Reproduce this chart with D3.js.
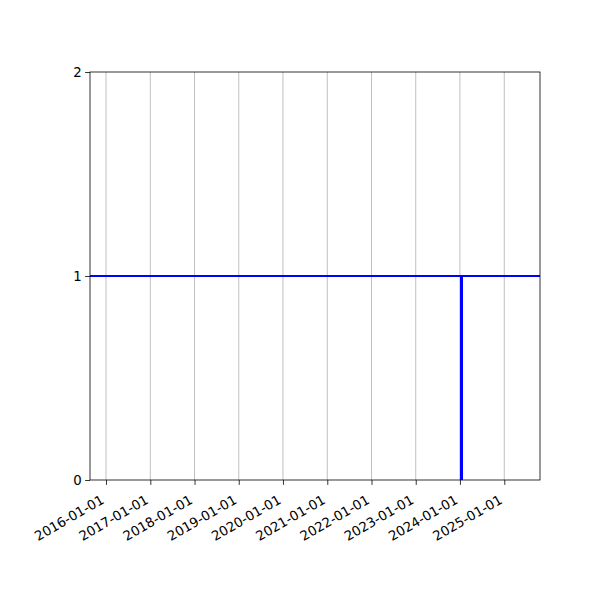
<!DOCTYPE html>
<html>
<head>
<meta charset="utf-8">
<script src="https://cdn.jsdelivr.net/npm/d3@7"></script>
<style>
  body { margin: 0; background: #fff; }
  text { font-family: "DejaVu Sans", sans-serif; }
</style>
</head>
<body>
<div id="chart"></div>
<script>
var parse = d3.timeParse('%Y-%m-%d');

// axis limits and marks
var xLimits = ['2015-08-22', '2025-10-23'];
var yLimits = [0, 2];
var levelValue = 1;
var stepDate = '2024-01-14';
var stepValues = [0, 1];
var yearTicks = ['2016-01-01', '2017-01-01', '2018-01-01', '2019-01-01', '2020-01-01',
                 '2021-01-01', '2022-01-01', '2023-01-01', '2024-01-01', '2025-01-01'];
var yTicks = [0, 1, 2];

function drawChart(dom, options) {
    var width = options.width || 600;
    var height = options.height || 600;
    var margin = {top: 72, right: 60, bottom: 120, left: 90};
    var lineColor = options.lineColor || 'blue';

    var svg = d3.select(dom).append('svg')
            .attr('width', width)
            .attr('height', height);

    var x = d3.scaleTime()
            .domain(xLimits.map(parse))
            .range([margin.left, width - margin.right]);
    var y = d3.scaleLinear()
            .domain(yLimits)
            .range([height - margin.bottom, margin.top]);

    svg.append('clipPath').attr('id', 'plotclip')
            .append('rect')
            .attr('x', margin.left).attr('y', margin.top)
            .attr('width', width - margin.left - margin.right)
            .attr('height', height - margin.top - margin.bottom);

    // vertical grid
    svg.append('g')
            .selectAll('line')
            .data(yearTicks.map(parse))
            .enter()
            .append('line')
            .attr('x1', function (d) { return x(d); })
            .attr('x2', function (d) { return x(d); })
            .attr('y1', y(yLimits[0]))
            .attr('y2', y(yLimits[1]))
            .style('stroke', '#b0b0b0')
            .style('stroke-width', 0.8);

    var plot = svg.append('g').attr('clip-path', 'url(#plotclip)');

    plot.append('line')
            .attr('x1', x.range()[0])
            .attr('x2', x.range()[1])
            .attr('y1', y(levelValue))
            .attr('y2', y(levelValue))
            .style('stroke', lineColor)
            .style('stroke-width', 2);

    plot.append('line')
            .attr('x1', x(parse(stepDate)))
            .attr('x2', x(parse(stepDate)))
            .attr('y1', y(stepValues[0]))
            .attr('y2', y(stepValues[1]))
            .style('stroke', lineColor)
            .style('stroke-width', 3);

    var xAxis = svg.append('g')
            .attr('transform', 'translate(0,' + (height - margin.bottom) + ')')
            .call(d3.axisBottom(x)
                .tickValues(yearTicks.map(parse))
                .tickFormat(d3.timeFormat('%Y-%m-%d'))
                .tickSizeOuter(0)
                .tickSize(4.9)
                .tickPadding(3.5));
    xAxis.selectAll('text')
            .style('font-size', '13.3px')
            .attr('text-anchor', 'end')
            .attr('y', 0)
            .attr('dy', 0)
            .attr('transform', 'translate(-1.5,22.5) rotate(-30)');

    var yAxis = svg.append('g')
            .attr('transform', 'translate(' + margin.left + ',0)')
            .call(d3.axisLeft(y)
                .tickValues(yTicks)
                .tickFormat(d3.format('d'))
                .tickSizeOuter(0)
                .tickSize(4.9)
                .tickPadding(3.5));
    yAxis.selectAll('text').style('font-size', '13.3px');

    svg.selectAll('.domain').remove();
    svg.selectAll('.tick line').style('stroke', '#000').style('stroke-width', 0.8);

    // frame
    svg.append('rect')
            .attr('x', margin.left).attr('y', margin.top)
            .attr('width', width - margin.left - margin.right)
            .attr('height', height - margin.top - margin.bottom)
            .style('fill', 'none')
            .style('stroke', '#000')
            .style('stroke-width', 0.8);
}

drawChart('#chart', {lineColor: 'blue'});
</script>
</body>
</html>
